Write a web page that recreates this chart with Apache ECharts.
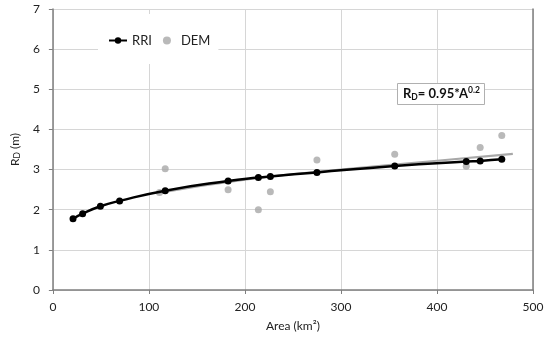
<!DOCTYPE html>
<html>
<head>
<meta charset="utf-8">
<script src="https://cdn.jsdelivr.net/npm/echarts@6/dist/echarts.min.js"></script>
<style>
html,body{margin:0;padding:0;background:#fff;}
#c{width:550px;height:340px;}
</style>
</head>
<body>
<div id="c"></div>
<script>
// Data
const xTicks = [0, 100, 200, 300, 400, 500];
const yTicks = [0, 1, 2, 3, 4, 5, 6, 7];
const rriArea = [21, 31, 49.5, 69.5, 117, 182.5, 214, 226.5, 275, 356, 430.5, 445, 467.5];
const rriRd   = [1.775, 1.9, 2.085, 2.22, 2.475, 2.715, 2.8, 2.83, 2.93, 3.09, 3.2, 3.215, 3.255];
const demArea = [111, 117, 182.5, 214, 226.5, 275, 356, 430.5, 445, 467.5];
const demRd   = [2.43, 3.02, 2.5, 2.0, 2.45, 3.24, 3.38, 3.08, 3.55, 3.85];
const fitArea = [110, 200, 300, 400, 479];
const fitRd   = [2.42, 2.75, 3.0, 3.22, 3.39];

const FONT = 'Lato';
const pair = (xs, ys) => xs.map((x, i) => [x, ys[i]]);

const chart = echarts.init(document.getElementById('c'), null, {renderer: 'canvas'});
chart.setOption({
  animation: false,
  backgroundColor: '#fff',
  textStyle: {fontFamily: FONT},
  grid: {left: 50, right: 17, top: 9, bottom: 50, containLabel: false},
  title: {
    text: '{b|R}{s|D}{b|= 0.95*A}{p|0.2}',
    left: 397, top: 83,
    backgroundColor: '#fff',
    borderColor: '#b0b0b0', borderWidth: 1,
    padding: [3, 5, 3, 6],
    textStyle: {
      rich: {
        b: {fontFamily: FONT, fontWeight: 'bold', fontSize: 13, color: '#111', lineHeight: 16, verticalAlign: 'middle'},
        s: {fontFamily: FONT, fontWeight: 'bold', fontSize: 8.5, color: '#111', lineHeight: 16, verticalAlign: 'bottom', padding: [6, 0, 0, 0]},
        p: {fontFamily: FONT, fontWeight: 'bold', fontSize: 8.5, color: '#111', lineHeight: 16, verticalAlign: 'top', padding: [0, 0, 5, 0]}
      }
    }
  },
  legend: {
    data: ['RRI', 'DEM'],
    left: 98, top: 14,
    padding: [20, 8, 17, 10],
    backgroundColor: '#fff',
    itemWidth: 18, itemHeight: 8,
    itemGap: 11,
    textStyle: {fontFamily: FONT, fontSize: 13, color: '#222'}
  },
  xAxis: {
    type: 'value', min: 0, max: 500, interval: 100,
    name: 'Area (km²)', nameLocation: 'middle', nameGap: 30,
    nameTextStyle: {fontFamily: FONT, fontSize: 12, color: '#222'},
    axisLine: {show: true, lineStyle: {color: '#7f7f7f', width: 1.5}},
    axisTick: {show: true, length: 4, lineStyle: {color: '#7f7f7f'}},
    axisLabel: {margin: 11, fontFamily: FONT, fontSize: 12, color: '#222',
      formatter: v => xTicks.includes(v) ? String(v) : ''},
    splitLine: {show: true, lineStyle: {color: '#d6d6d6', width: 1}}
  },
  yAxis: [{
    type: 'value', min: 0, max: 7, interval: 1,
    name: '{r|R}{d|D}{r| (m)}', nameLocation: 'middle', nameGap: 25, nameRotate: 90,
    nameTextStyle: {
      rich: {
        r: {fontFamily: FONT, fontSize: 12, color: '#222', lineHeight: 14},
        d: {fontFamily: FONT, fontSize: 8.5, color: '#222', lineHeight: 14, verticalAlign: 'bottom', padding: [5, 0, 0, 0]}
      }
    },
    axisLine: {show: true, lineStyle: {color: '#7f7f7f', width: 1.5}},
    axisTick: {show: true, length: 4, lineStyle: {color: '#7f7f7f'}},
    axisLabel: {margin: 13, fontFamily: FONT, fontSize: 12, color: '#222',
      formatter: v => yTicks.includes(v) ? String(v) : ''},
    splitLine: {show: true, lineStyle: {color: '#d6d6d6', width: 1}}
  }, {
    type: 'value', min: 0, max: 7, interval: 1, position: 'right',
    axisLine: {show: true, onZero: false, lineStyle: {color: '#7f7f7f', width: 1.5}},
    axisTick: {show: false}, axisLabel: {show: false}, splitLine: {show: false}
  }],
  series: [
    {
      name: 'DEM', type: 'scatter', data: pair(demArea, demRd),
      symbol: 'circle', symbolSize: 7,
      itemStyle: {color: '#a8a8a8'}, z: 2
    },
    {
      name: 'DEM fit', type: 'line', data: pair(fitArea, fitRd), smooth: true,
      showSymbol: false, symbol: 'none',
      lineStyle: {color: '#a8a8a8', width: 2.2}, z: 3
    },
    {
      name: 'RRI', type: 'line', data: pair(rriArea, rriRd), smooth: true,
      symbol: 'circle', symbolSize: 7, showSymbol: true,
      itemStyle: {color: '#000'},
      lineStyle: {color: '#000', width: 2.5}, z: 4
    }
  ]
});
</script>
</body>
</html>
